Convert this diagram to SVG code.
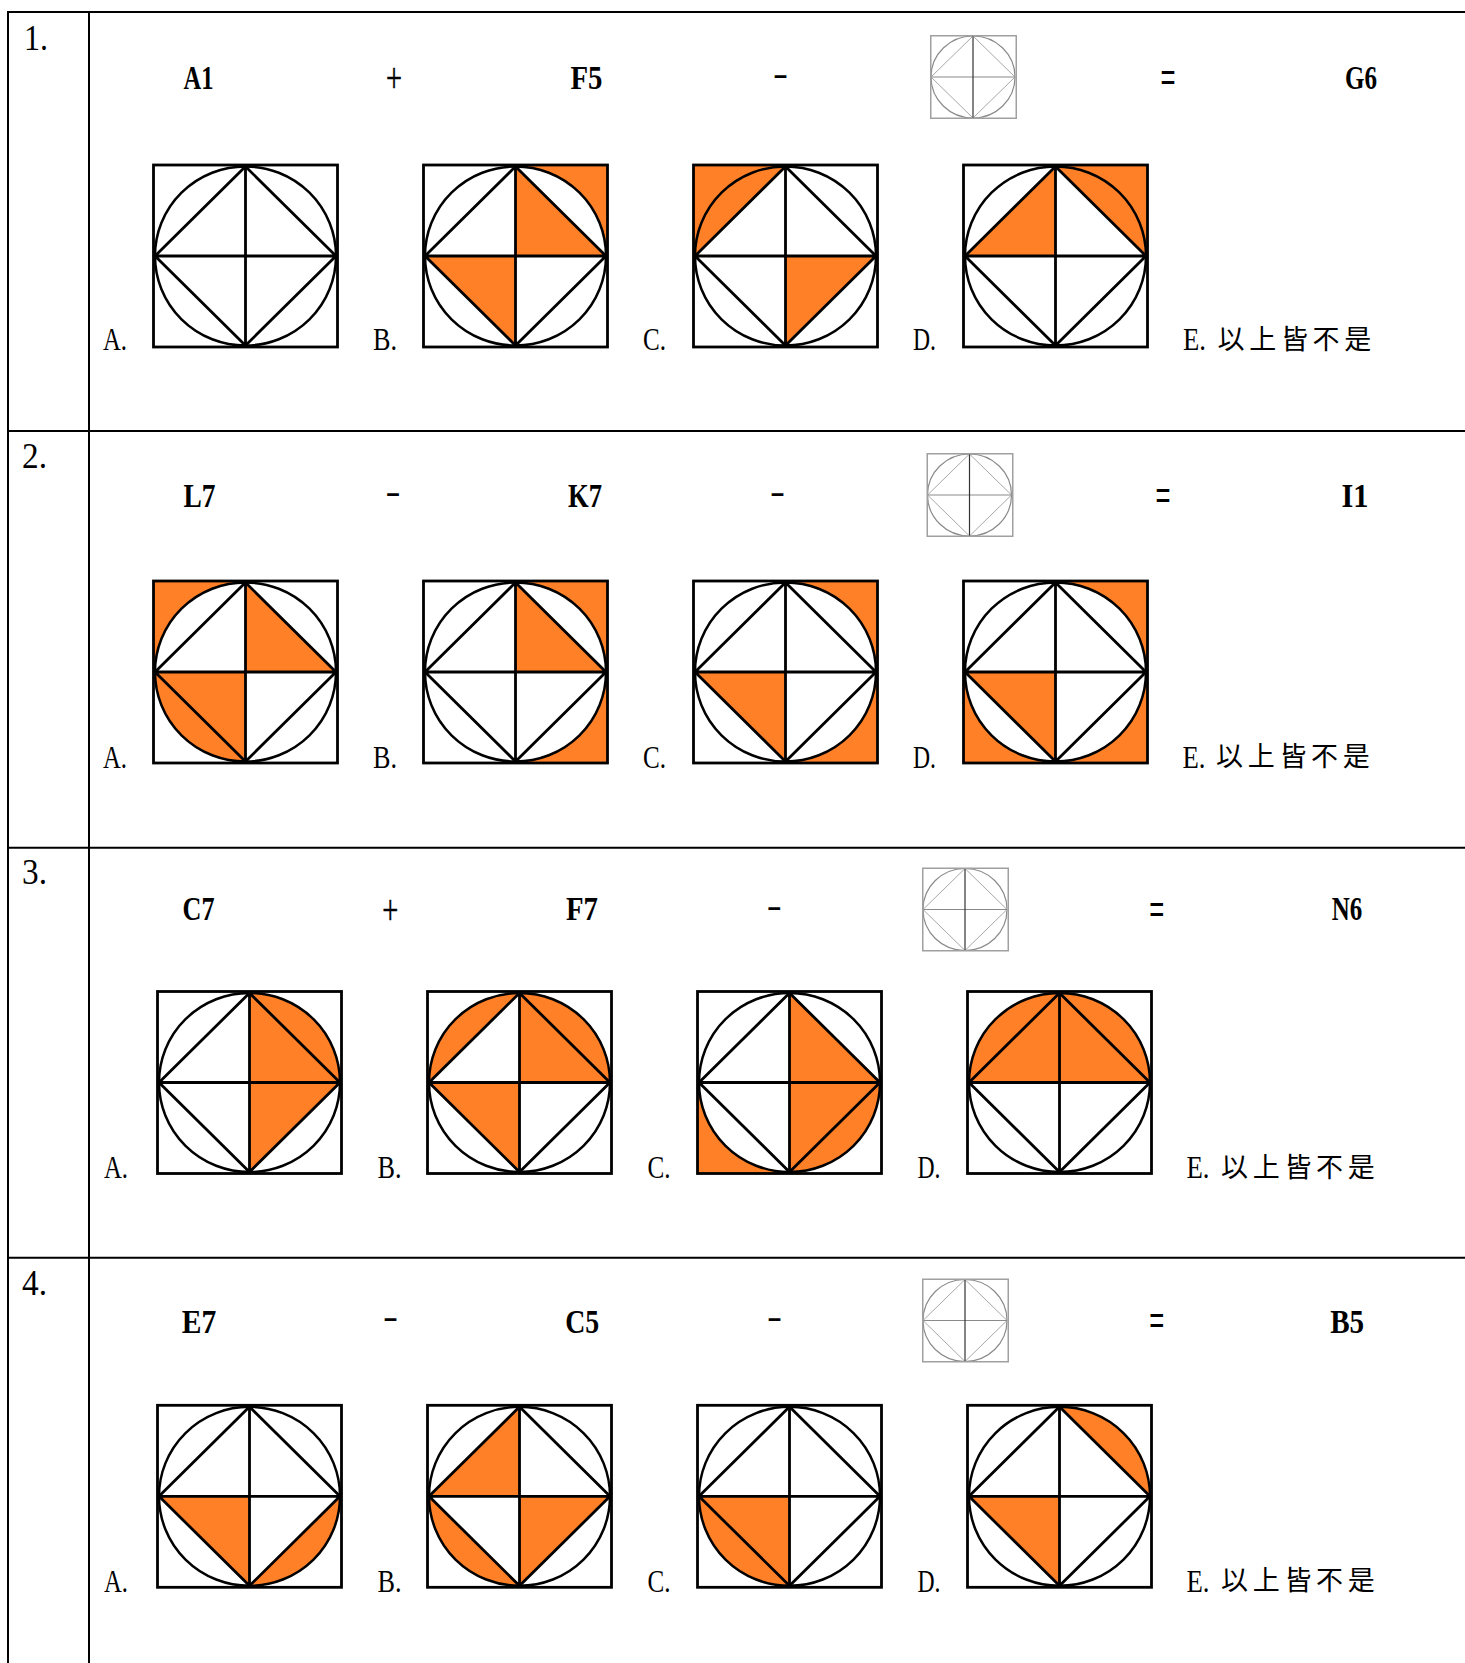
<svg xmlns="http://www.w3.org/2000/svg" xmlns:xlink="http://www.w3.org/1999/xlink" width="1465" height="1663" viewBox="0 0 1465 1663">
<style>
.bg{fill:#fff}
.tl{stroke:#000;stroke-width:2;fill:none}
.o{fill:#ff8027;stroke:none}
.fs{fill:none;stroke:#000;stroke-width:2.8}
.fc{fill:none;stroke:#000;stroke-width:2.5}
.ir{fill:none;stroke:#a0a0a0;stroke-width:1.5}
.ic{fill:none;stroke:#8a8a8a;stroke-width:1.2}
.id{fill:none;stroke:#a8a8a8;stroke-width:1}
.iv{fill:none;stroke:#333;stroke-width:1.2}
.num{font-family:"Liberation Serif",serif;font-size:36px;fill:#000}
.lbl{font-family:"Liberation Serif",serif;font-size:32px;fill:#000}
.eq{font-family:"Liberation Serif",serif;font-size:34px;font-weight:bold;fill:#000}
.op{font-family:"Liberation Serif",serif;font-size:38px;fill:#000;text-anchor:middle}
.pl{font-family:"Liberation Serif",serif;font-size:42px;fill:#000;stroke:#000;stroke-width:0.5;text-anchor:middle}
.eqs{font-family:"Liberation Sans",sans-serif;font-size:40px;fill:#000;text-anchor:middle}
.cjk{font-family:"Noto Sans CJK TC","Noto Sans CJK SC",sans-serif;font-size:27px;letter-spacing:4.7px;fill:#000}
</style>
<defs>
<path id="tlT" class="o" d="M92,91 H1.5 L92,1.5 Z"/>
<path id="tlS" class="o" d="M1.5,91 A90.5,89.5 0 0 1 92,1.5 Z"/>
<path id="tlC" class="o" d="M0,0 H92 V1.5 A90.5,89.5 0 0 0 1.5,91 H0 Z"/>
<path id="trT" class="o" d="M92,91 V1.5 L182.5,91 Z"/>
<path id="trS" class="o" d="M92,1.5 A90.5,89.5 0 0 1 182.5,91 Z"/>
<path id="trC" class="o" d="M92,0 H184 V91 H182.5 A90.5,89.5 0 0 0 92,1.5 Z"/>
<path id="brT" class="o" d="M92,91 H182.5 L92,180.5 Z"/>
<path id="brS" class="o" d="M182.5,91 A90.5,89.5 0 0 1 92,180.5 Z"/>
<path id="brC" class="o" d="M184,182 H92 V180.5 A90.5,89.5 0 0 0 182.5,91 H184 Z"/>
<path id="blT" class="o" d="M92,91 V180.5 L1.5,91 Z"/>
<path id="blS" class="o" d="M92,180.5 A90.5,89.5 0 0 1 1.5,91 Z"/>
<path id="blC" class="o" d="M0,182 V91 H1.5 A90.5,89.5 0 0 0 92,180.5 V182 Z"/>
<g id="fr">
<ellipse class="fc" cx="92" cy="91" rx="90.5" ry="89.5"/>
<path class="fs" d="M92,1.5 L182.5,91 L92,180.5 L1.5,91 Z M92,1.5 V180.5 M1.5,91 H182.5"/>
<rect class="fs" x="0" y="0" width="184" height="182"/>
</g>
<g id="icon">
<ellipse class="ic" cx="43" cy="42" rx="42" ry="41"/>
<path class="id" d="M43,1 L85,42 L43,83 L1,42 Z"/>
<path class="ic" d="M1,42 H85"/>
<path class="iv" d="M43,1 V83"/>
<rect class="ir" x="0.75" y="0.75" width="85.5" height="82.5"/>
</g>
</defs>
<rect class="bg" x="0" y="0" width="1465" height="1663"/>
<g id="table">
<path class="tl" d="M8,12 H1465 M8,431 H1465 M8,847.7 H1465 M8,1257.7 H1465 M8,11 V1663 M89,11 V1663"/>
</g>

<g id="row1">
<text class="num" x="24" y="50" textLength="24" lengthAdjust="spacingAndGlyphs">1.</text>
<text class="eq" x="183.5" y="89" textLength="30" lengthAdjust="spacingAndGlyphs">A1</text>
<text class="pl" x="394" y="91.5" textLength="16" lengthAdjust="spacingAndGlyphs">+</text>
<text class="op" x="780.5" y="85.5" textLength="15" lengthAdjust="spacingAndGlyphs">-</text>
<text class="eq" x="570.5" y="89" textLength="32" lengthAdjust="spacingAndGlyphs">F5</text>
<use xlink:href="#icon" href="#icon" transform="translate(930,35)"/>
<text class="eqs" x="1168" y="91" textLength="15" lengthAdjust="spacingAndGlyphs">=</text>
<text class="eq" x="1345" y="89" textLength="32" lengthAdjust="spacingAndGlyphs">G6</text>
<text class="lbl" x="103" y="350" textLength="24" lengthAdjust="spacingAndGlyphs">A.</text>
<text class="lbl" x="373" y="350" textLength="24" lengthAdjust="spacingAndGlyphs">B.</text>
<text class="lbl" x="643" y="350" textLength="23" lengthAdjust="spacingAndGlyphs">C.</text>
<text class="lbl" x="913" y="350" textLength="23" lengthAdjust="spacingAndGlyphs">D.</text>
<text y="350"><tspan class="lbl" x="1183" textLength="23" lengthAdjust="spacingAndGlyphs">E.</tspan><tspan class="cjk" x="1217.5" y="348.5">以上皆不是</tspan></text>
<g id="r1a" transform="translate(153.5,165)"><use href="#fr" xlink:href="#fr"/></g>
<g id="r1b" transform="translate(423.5,165)"><use href="#trT"/><use href="#trC"/><use href="#blT"/><use href="#fr"/></g>
<g id="r1c" transform="translate(693.5,165)"><use href="#tlC"/><use href="#tlS"/><use href="#brT"/><use href="#fr"/></g>
<g id="r1d" transform="translate(963.5,165)"><use href="#tlT"/><use href="#trS"/><use href="#trC"/><use href="#fr"/></g>
</g>

<g id="row2">
<text class="num" x="22" y="467.7" textLength="25" lengthAdjust="spacingAndGlyphs">2.</text>
<text class="eq" x="183.5" y="506.7" textLength="32" lengthAdjust="spacingAndGlyphs">L7</text>
<text class="op" x="393" y="504.2" textLength="15" lengthAdjust="spacingAndGlyphs">-</text>
<text class="eq" x="568" y="506.7" textLength="34" lengthAdjust="spacingAndGlyphs">K7</text>
<text class="op" x="777.5" y="504.2" textLength="15" lengthAdjust="spacingAndGlyphs">-</text>
<use href="#icon" transform="translate(926.5,453)"/>
<text class="eqs" x="1163" y="509.3" textLength="15" lengthAdjust="spacingAndGlyphs">=</text>
<text class="eq" x="1341.5" y="506.7" textLength="27" lengthAdjust="spacingAndGlyphs">I1</text>
<text class="lbl" x="103" y="767.5" textLength="24" lengthAdjust="spacingAndGlyphs">A.</text>
<text class="lbl" x="373" y="767.5" textLength="24" lengthAdjust="spacingAndGlyphs">B.</text>
<text class="lbl" x="643" y="767.5" textLength="23" lengthAdjust="spacingAndGlyphs">C.</text>
<text class="lbl" x="913" y="767.5" textLength="23" lengthAdjust="spacingAndGlyphs">D.</text>
<text y="767.5"><tspan class="lbl" x="1182.5" textLength="23" lengthAdjust="spacingAndGlyphs">E.</tspan><tspan class="cjk" x="1216" y="766">以上皆不是</tspan></text>
<g id="r2a" transform="translate(153.5,581)"><use href="#tlC"/><use href="#trT"/><use href="#blT"/><use href="#blS"/><use href="#fr"/></g>
<g id="r2b" transform="translate(423.5,581)"><use href="#trT"/><use href="#trC"/><use href="#brC"/><use href="#fr"/></g>
<g id="r2c" transform="translate(693.5,581)"><use href="#trC"/><use href="#blT"/><use href="#brC"/><use href="#fr"/></g>
<g id="r2d" transform="translate(963.5,581)"><use href="#trC"/><use href="#blT"/><use href="#blC"/><use href="#brC"/><use href="#fr"/></g>
</g>

<g id="row3">
<text class="num" x="22" y="884" textLength="25" lengthAdjust="spacingAndGlyphs">3.</text>
<text class="eq" x="182.5" y="920" textLength="32" lengthAdjust="spacingAndGlyphs">C7</text>
<text class="pl" x="390.3" y="923.5" textLength="16" lengthAdjust="spacingAndGlyphs">+</text>
<text class="eq" x="566" y="920" textLength="32" lengthAdjust="spacingAndGlyphs">F7</text>
<text class="op" x="774.3" y="917.5" textLength="15" lengthAdjust="spacingAndGlyphs">-</text>
<use href="#icon" transform="translate(922,867.5)"/>
<text class="eqs" x="1156.7" y="922.5" textLength="15" lengthAdjust="spacingAndGlyphs">=</text>
<text class="eq" x="1331.8" y="920" textLength="30.5" lengthAdjust="spacingAndGlyphs">N6</text>
<text class="lbl" x="104" y="1178" textLength="24" lengthAdjust="spacingAndGlyphs">A.</text>
<text class="lbl" x="377.5" y="1178" textLength="24" lengthAdjust="spacingAndGlyphs">B.</text>
<text class="lbl" x="647.5" y="1178" textLength="23" lengthAdjust="spacingAndGlyphs">C.</text>
<text class="lbl" x="917.5" y="1178" textLength="23" lengthAdjust="spacingAndGlyphs">D.</text>
<text y="1178"><tspan class="lbl" x="1186.5" textLength="23" lengthAdjust="spacingAndGlyphs">E.</tspan><tspan class="cjk" x="1221" y="1176.5">以上皆不是</tspan></text>
<g id="r3a" transform="translate(157.5,991.5)"><use href="#trT"/><use href="#trS"/><use href="#brT"/><use href="#fr"/></g>
<g id="r3b" transform="translate(427.5,991.5)"><use href="#tlS"/><use href="#trT"/><use href="#trS"/><use href="#blT"/><use href="#fr"/></g>
<g id="r3c" transform="translate(697.5,991.5)"><use href="#trT"/><use href="#brT"/><use href="#brS"/><use href="#blC"/><use href="#fr"/></g>
<g id="r3d" transform="translate(967.5,991.5)"><use href="#tlT"/><use href="#tlS"/><use href="#trT"/><use href="#trS"/><use href="#fr"/></g>
</g>

<g id="row4">
<text class="num" x="22" y="1295" textLength="25" lengthAdjust="spacingAndGlyphs">4.</text>
<text class="eq" x="181.8" y="1333" textLength="34.5" lengthAdjust="spacingAndGlyphs">E7</text>
<text class="op" x="390.5" y="1328.5" textLength="15" lengthAdjust="spacingAndGlyphs">-</text>
<text class="eq" x="565.2" y="1333" textLength="34" lengthAdjust="spacingAndGlyphs">C5</text>
<text class="op" x="774.5" y="1328.5" textLength="15" lengthAdjust="spacingAndGlyphs">-</text>
<use href="#icon" transform="translate(922,1278.5)"/>
<text class="eqs" x="1156.7" y="1333.5" textLength="15" lengthAdjust="spacingAndGlyphs">=</text>
<text class="eq" x="1330.2" y="1333" textLength="34" lengthAdjust="spacingAndGlyphs">B5</text>
<text class="lbl" x="104" y="1591.7" textLength="24" lengthAdjust="spacingAndGlyphs">A.</text>
<text class="lbl" x="377.5" y="1591.7" textLength="24" lengthAdjust="spacingAndGlyphs">B.</text>
<text class="lbl" x="647.5" y="1591.7" textLength="23" lengthAdjust="spacingAndGlyphs">C.</text>
<text class="lbl" x="917.5" y="1591.7" textLength="23" lengthAdjust="spacingAndGlyphs">D.</text>
<text y="1591.7"><tspan class="lbl" x="1186.5" textLength="23" lengthAdjust="spacingAndGlyphs">E.</tspan><tspan class="cjk" x="1221" y="1590.2">以上皆不是</tspan></text>
<g id="r4a" transform="translate(157.5,1405.3)"><use href="#blT"/><use href="#brS"/><use href="#fr"/></g>
<g id="r4b" transform="translate(427.5,1405.3)"><use href="#tlT"/><use href="#brT"/><use href="#blS"/><use href="#fr"/></g>
<g id="r4c" transform="translate(697.5,1405.3)"><use href="#blT"/><use href="#blS"/><use href="#fr"/></g>
<g id="r4d" transform="translate(967.5,1405.3)"><use href="#trS"/><use href="#blT"/><use href="#fr"/></g>
</g>
</svg>
